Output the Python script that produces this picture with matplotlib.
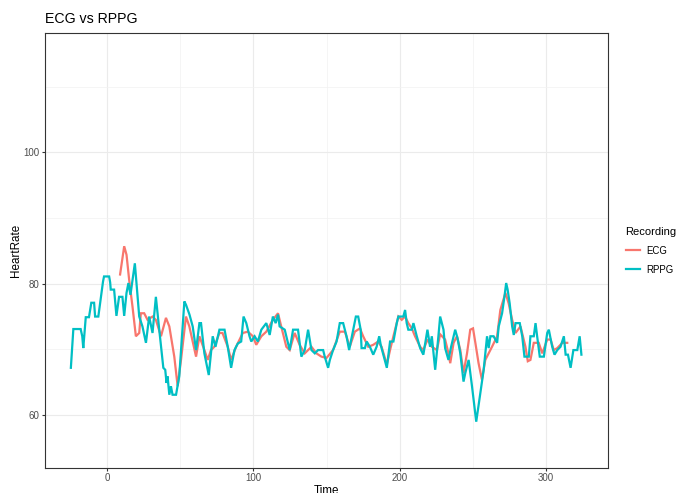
import matplotlib
matplotlib.use("Agg")
import matplotlib.pyplot as plt
from matplotlib.ticker import FixedLocator

plt.rcParams['font.family'] = ['Liberation Sans', 'DejaVu Sans']

# ---- data ----
rppg_time = [-25.0, -23.3, -18.3, -17.2, -16.5, -14.8, -12.6, -11.0, -9.1, -8.4, -6.2, -3.0, -2.3, 1.2, 1.9,
             2.3, 4.6, 6.2, 8.0, 10.3, 11.5, 13.1, 14.4, 15.8, 18.8, 19.9, 21.8, 24.0, 26.4, 28.6, 30.9, 33.2,
             35.5, 38.3, 39.6, 40.5, 41.2, 42.4, 43.5, 44.6, 47.0, 49.2, 52.7, 53.8, 56.2, 58.4, 60.7, 63.0,
             64.1, 66.4, 69.4, 72.1, 74.0, 76.7, 80.2, 82.4, 84.7, 87.0, 89.3, 91.6, 93.2, 95.1, 97.3, 98.5,
             100.8, 103.0, 105.4, 108.8, 111.1, 113.3, 115.2, 116.8, 117.9, 121.4, 122.5, 124.8, 127.1, 130.5,
             132.8, 135.1, 137.4, 139.7, 142.0, 144.2, 147.7, 148.8, 151.1, 152.3, 154.5, 156.9, 159.1, 161.4,
             163.7, 165.5, 168.3, 170.1, 171.7, 173.4, 174.0, 176.3, 177.5, 179.7, 182.0, 184.3, 186.1, 187.1,
             188.9, 191.3, 193.5, 195.8, 198.1, 199.2, 202.6, 203.8, 204.9, 206.0, 208.4, 209.5, 211.8, 214.1,
             216.3, 219.1, 220.9, 222.1, 224.4, 226.6, 227.8, 230.1, 231.2, 233.5, 235.3, 238.1, 239.7, 241.6,
             243.8, 245.0, 247.3, 249.6, 252.5, 255.3, 257.6, 259.9, 261.0, 262.2, 264.4, 266.8, 267.9, 270.2,
             271.8, 273.0, 274.0, 275.4, 277.1, 278.2, 279.4, 282.3, 284.0, 285.5, 288.5, 289.6, 291.9, 293.1,
             294.2, 296.0, 298.8, 301.1, 302.2, 304.5, 306.1, 308.0, 310.2, 312.5, 313.7, 315.3, 317.1, 319.0,
             321.7, 323.3, 324.5]
rppg_rate = [67.2, 73.1, 73.1, 72.0, 70.2, 74.9, 74.9, 77.1, 77.1, 75.0, 75.0, 80.3, 81.1, 81.1, 80.2,
             79.1, 79.1, 75.1, 78.0, 78.0, 75.1, 78.6, 80.1, 78.3, 83.1, 80.1, 75.0, 73.5, 71.0, 75.0, 72.5, 78.0,
             73.0, 67.2, 66.9, 64.9, 65.9, 63.1, 64.4, 63.1, 63.1, 65.9, 77.3, 76.8, 75.3, 73.5, 69.9, 74.0,
             74.0, 69.4, 66.1, 72.0, 70.4, 73.0, 73.0, 70.4, 67.2, 69.9, 70.9, 71.2, 75.0, 74.0, 72.0, 71.2,
             72.0, 71.2, 73.0, 74.0, 72.2, 75.0, 74.0, 75.3, 73.5, 73.0, 72.0, 69.9, 73.0, 73.0,
             68.9, 69.9, 73.0, 69.9, 69.4, 69.9, 69.9, 68.9, 67.2, 68.4, 69.9, 71.2, 74.0, 74.0,
             72.0, 69.9, 73.0, 75.0, 75.0, 73.0, 70.2, 70.2, 71.2, 70.4, 69.2, 70.4, 72.0, 70.7,
             69.2, 67.2, 71.2, 71.2, 74.0, 75.0, 75.0, 76.0, 74.0, 73.0, 73.0, 74.0, 72.0, 70.2,
             69.2, 73.0, 70.4, 72.0, 66.9, 72.0, 75.0, 73.0, 70.2, 68.4, 70.4, 73.0, 71.7, 69.4,
             65.1, 66.4, 68.4, 64.4, 59.0, 63.3, 66.9, 72.0, 70.2, 72.0, 72.0, 71.0, 73.5, 75.5,
             78.0, 80.1, 79.1, 77.0, 73.5, 72.2, 74.0, 74.0, 72.0, 68.9, 68.9, 72.0, 72.0, 74.0,
             72.0, 68.9, 68.9, 72.5, 73.0, 70.4, 69.2, 69.9, 70.4, 72.0, 69.2, 69.2, 67.2, 69.9,
             69.9, 72.0, 69.2]

ecg_time = [8.7, 11.5, 13.1, 14.9, 17.2, 19.5, 21.8, 22.9, 25.2, 27.5, 30.9, 33.2, 36.7, 40.1, 42.4, 45.8,
            48.1, 50.4, 53.8, 56.1, 60.7, 63.0, 66.4, 68.7, 70.9, 73.2, 76.7, 78.8, 82.4, 84.7, 88.1, 92.7,
            96.2, 99.6, 101.9, 105.4, 108.8, 113.3, 116.8, 119.0, 122.5, 124.8, 128.2, 131.6, 135.1, 139.7,
            143.1, 146.5, 150.0, 154.5, 159.1, 162.6, 165.9, 169.4, 172.9, 175.1, 178.6, 182.0, 185.4, 187.7,
            191.3, 193.5, 195.8, 199.2, 201.5, 203.8, 206.0, 208.4, 210.6, 214.1, 216.3, 219.1, 222.1, 225.6,
            227.8, 231.2, 233.5, 234.7, 237.0, 239.3, 241.6, 243.8, 246.2, 248.4, 250.3, 251.9, 254.1, 256.4,
            258.7, 261.0, 263.3, 266.8, 269.0, 272.5, 274.7, 277.1, 279.4, 282.8, 286.2, 287.8, 289.6, 291.9,
            295.3, 297.7, 301.1, 303.4, 305.6, 308.0, 311.4, 314.8]
ecg_rate = [81.4, 85.7, 84.4, 80.6, 76.5, 72.0, 72.5, 75.5, 75.5, 74.5, 75.0, 74.5, 72.0, 74.8, 73.5, 68.9,
            64.4, 68.4, 75.0, 73.5, 68.9, 72.0, 69.9, 68.4, 69.9, 70.4, 72.5, 72.5, 70.4, 68.4, 70.4, 72.5,
            72.7, 72.0, 70.7, 72.0, 72.7, 74.5, 75.5, 73.5, 70.4, 69.9, 72.5, 70.7, 69.4, 70.4,
            69.4, 68.9, 68.7, 69.9, 72.7, 72.7, 70.4, 72.7, 73.2, 72.0, 70.4, 70.7, 71.2, 70.4,
            67.7, 69.9, 72.0, 75.0, 74.5, 75.0, 74.0, 73.2, 72.0, 70.4, 69.9, 71.5, 70.4, 69.9,
            72.3, 71.5, 69.4, 67.9, 71.0, 72.0, 69.9, 66.4, 69.4, 73.0, 73.2, 71.0, 67.9, 65.4,
            68.4, 69.4, 70.4, 72.0, 76.0, 78.6, 77.0, 74.5, 72.5, 73.5, 70.4, 68.2, 68.4, 71.0,
            71.0, 69.4, 71.5, 71.5, 69.9, 70.2, 71.0, 71.0]

series_names = ["ECG", "RPPG"]
series_colors = ["#F8766D", "#00BFC4"]

x_ticks = [0, 100, 200, 300]
y_ticks = [60, 80, 100]

# ---- figure ----
W, H = 678, 493
fig = plt.figure(figsize=(W / 100, H / 100), dpi=100)
L, R, T, B = 45.3, 607.7, 33.3, 467.7
ax = fig.add_axes([L / W, 1 - B / H, (R - L) / W, (B - T) / H])

lines = []
for (t, v), name, col in zip([(ecg_time, ecg_rate), (rppg_time, rppg_rate)], series_names, series_colors):
    ln, = ax.plot(t, v, color=col, lw=1.6, label=name, solid_joinstyle='miter', zorder=3)
    lines.append(ln)

ax.set_xlim(-42.5, 342.5)
ax.set_ylim(52.0, 118.1)
ax.xaxis.set_major_locator(FixedLocator(x_ticks))
ax.yaxis.set_major_locator(FixedLocator(y_ticks))
ax.xaxis.set_minor_locator(FixedLocator([-50, 50, 150, 250, 350]))
ax.yaxis.set_minor_locator(FixedLocator([50, 70, 90, 110]))
ax.grid(which='major', color='#EBEBEB', lw=0.8, zorder=0)
ax.grid(which='minor', color='#F2F2F2', lw=0.5, zorder=0)
ax.set_axisbelow(True)
for s in ax.spines.values():
    s.set_color('#333333')
    s.set_linewidth(0.8)
ax.tick_params(which='major', length=2.5, width=0.8, color='#333333', labelcolor='#4D4D4D',
               labelsize=7.0, pad=1.5)
ax.tick_params(which='minor', length=0)

fig.text(L / W, 1 - 19 / H, "ECG vs RPPG", fontsize=10.2, ha='left', va='center', color='black')
fig.text(16 / W, 1 - 250 / H, "HeartRate", fontsize=8.4, rotation=90, ha='center', va='center')
fig.text((L + R) / 2 / W, 1 - 485 / H, "Time", fontsize=8.4, ha='center', va='top')

leg = fig.legend(handles=lines, labels=series_names, title="Recording",
                 loc='upper left', bbox_to_anchor=(617 / W, 1 - 218 / H),
                 frameon=False, fontsize=6.9, title_fontsize=8.0,
                 handlelength=1.5, handletextpad=0.65, labelspacing=0.95)
leg._legend_box.align = "left"

fig.savefig("out.png", dpi=100)
